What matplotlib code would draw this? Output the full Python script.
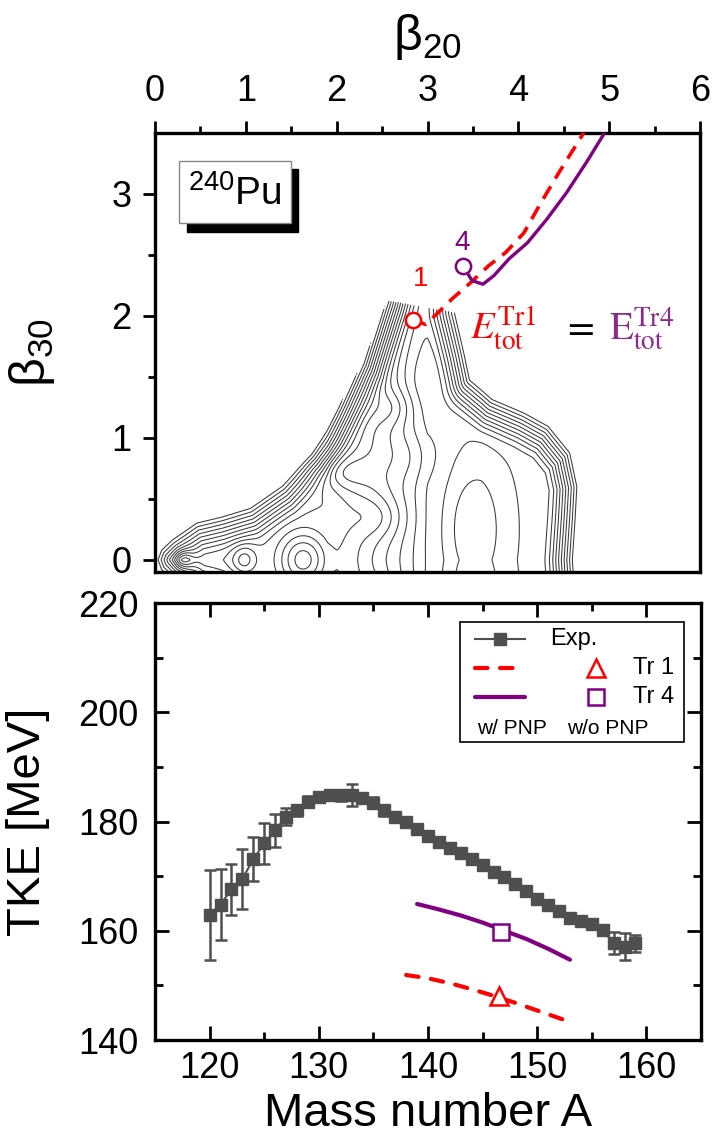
import numpy as np
import matplotlib.pyplot as plt
from matplotlib.path import Path
from matplotlib.patches import Rectangle
from matplotlib.lines import Line2D

plt.rcParams['font.family'] = ['Liberation Sans', 'DejaVu Sans']
plt.rcParams['mathtext.fontset'] = 'custom'
plt.rcParams['mathtext.rm'] = 'Liberation Sans'
plt.rcParams['mathtext.it'] = 'Liberation Sans:italic'

# ---------------- potential energy surface (beta20, beta30) ----------------
# outer rim of the computed region, upper half (mirrored for beta30 < 0)
rim_b20 = [0.00, 0.05, 0.18, 0.45, 0.73, 1.04, 1.39, 1.71, 2.02, 2.29, 2.55, 2.75,
           3.30, 3.31, 3.41, 3.47, 3.71, 4.06, 4.33, 4.57, 4.65, 4.63, 4.60]
rim_b30 = [0.00, 0.10, 0.19, 0.33, 0.38, 0.45, 0.63, 0.88, 1.26, 1.62, 2.12, 2.60,
           2.60, 2.03, 1.70, 1.48, 1.32, 1.21, 1.10, 0.88, 0.60, 0.33, 0.00]
# scission line cutting the fission channel
cut_b20 = [2.55, 3.31]
cut_b30 = [2.13, 2.03]

# energy drop along elongation beyond the second barrier [MeV]
trend_b20 = [0.0, 1.90, 2.00, 3.00, 3.30, 3.60, 4.70]
trend_E = [0.0, 0.0, -0.5, -7.0, -7.5, -7.8, -7.8]

# local pockets / bumps of the surface: centre, depth [MeV], widths
pock_b20 = [0.31, 0.98, 1.63, 2.05, 2.45, 2.80, 3.50, 2.90, 2.60]
pock_b30 = [0.00, 0.00, 0.00, 0.72, 0.35, 0.85, 0.25, 1.45, 1.25]
pock_dep = [-3.0, -2.5, -4.5, -2.2, 1.8, 0.8, -2.2, -1.0, 1.6]
pock_w20 = [0.10, 0.14, 0.26, 0.32, 0.30, 0.30, 0.33, 0.25, 0.25]
pock_w30 = [0.08, 0.13, 0.22, 0.15, 0.18, 0.20, 0.55, 0.35, 0.15]

wall_height = 10.0
wall_width = 0.30
levels = np.arange(-12, 14, 1.0)

# ---------------- fission trajectories ----------------
tr1_b20 = [2.835, 2.98, 3.12, 3.27, 3.47, 3.67, 3.86, 4.06, 4.25, 4.45, 4.61, 4.71, 4.75]
tr1_b30 = [1.97, 1.93, 2.03, 2.14, 2.27, 2.41, 2.52, 2.68, 2.93, 3.18, 3.37, 3.49, 3.56]
tr4_b20 = [3.39, 3.49, 3.61, 3.73, 3.90, 4.10, 4.31, 4.53, 4.75, 4.94, 4.98]
tr4_b30 = [2.41, 2.29, 2.26, 2.33, 2.47, 2.60, 2.79, 3.01, 3.26, 3.49, 3.56]

# ---------------- TKE ----------------
exp_A = np.arange(120, 160)
exp_tke = [162.9, 164.8, 167.6, 169.5, 173.1, 176.0, 178.4, 180.9, 182.1, 183.6,
           184.5, 184.8, 184.8, 184.9, 184.3, 183.4, 182.1, 180.9, 180.0, 178.7,
           177.4, 176.3, 175.1, 174.3, 173.2, 172.0, 170.7, 169.9, 168.5, 167.2,
           165.9, 164.8, 163.6, 162.3, 161.7, 161.2, 160.1, 157.7, 157.1, 157.7]
exp_err = [8.2, 6.5, 4.7, 5.5, 4.0, 3.7, 3.0, 1.5, 1.0, 1.0,
           0.8, 0.8, 1.0, 2.0, 1.0, 1.0, 1.0, 0.8, 0.8, 0.8,
           0.8, 0.6, 0.6, 0.6, 0.6, 0.6, 0.8, 0.6, 0.6, 0.6,
           0.6, 0.6, 0.6, 0.6, 0.6, 0.6, 0.8, 2.0, 2.5, 1.5]
tr4_A = [139, 141, 143, 145, 147, 149, 151, 153]
tr4_tke = [164.9, 163.9, 162.8, 161.5, 160.0, 158.5, 156.7, 154.7]
tr1_A = [138, 140, 142, 144, 146, 148, 150, 152.3]
tr1_tke = [151.9, 151.3, 150.4, 149.3, 148.1, 146.8, 145.4, 143.8]
nopnp_A = [146.5, 146.7]
nopnp_tke = [148.0, 159.8]

RED = '#ff0000'
PURPLE = '#800080'
GREY = '#4f4f4f'


def rim_distance(X, Y, px, py):
    d = np.full(X.shape, np.inf)
    for i in range(len(px) - 1):
        dx, dy = px[i + 1] - px[i], py[i + 1] - py[i]
        if dx == 0 and dy == 0:
            continue
        t = np.clip(((X - px[i]) * dx + (Y - py[i]) * dy) / (dx * dx + dy * dy), 0, 1)
        d = np.minimum(d, np.hypot(X - px[i] - t * dx, Y - py[i] - t * dy))
    inside = Path(np.column_stack([px, py])).contains_points(
        np.column_stack([X.ravel(), Y.ravel()])).reshape(X.shape)
    return np.where(inside, d, -d)


def surface():
    b20 = np.linspace(-0.05, 4.8, 800)
    b30 = np.linspace(-0.15, 2.4, 480)
    X, Y = np.meshgrid(b20, b30)
    px = np.array(rim_b20 + rim_b20[::-1][1:])
    py = np.array(rim_b30 + [-v for v in rim_b30[::-1]][1:])
    d = rim_distance(X, Y, px, py)
    w = 0.04
    E = wall_height / wall_width * w * np.logaddexp(0, (wall_width - d) / w)
    E += np.interp(X, trend_b20, trend_E)
    for x0, y0, dep, sx, sy in zip(pock_b20, pock_b30, pock_dep, pock_w20, pock_w30):
        E += dep * np.exp(-((X - x0) / sx) ** 2 - ((np.abs(Y) - y0) / sy) ** 2)
    cut = np.interp(X, cut_b20, cut_b30)
    E[(d < 0) | (Y > cut)] = np.nan
    return X, Y, E


fig = plt.figure(figsize=(7.13, 11.35), dpi=100)
ax1 = fig.add_axes([0.2174, 0.496, 0.7644, 0.3868])
ax2 = fig.add_axes([0.2174, 0.0837, 0.7658, 0.385])

# ---------------- upper panel ----------------
X, Y, E = surface()
ax1.contour(X, Y, E, levels=levels, colors='#3a3a3a', linewidths=0.75,
            linestyles='solid')
ax1.plot(tr1_b20, tr1_b30, color=RED, lw=2.6, ls=(0, (4, 2.5)), zorder=3)
ax1.plot(tr4_b20, tr4_b30, color=PURPLE, lw=2.4, zorder=3)
ax1.plot(tr1_b20[0], tr1_b30[0], 'o', ms=11, mfc='white', mec=RED, mew=1.8, zorder=4)
ax1.plot(tr4_b20[0], tr4_b30[0], 'o', ms=11, mfc='white', mec=PURPLE, mew=1.8, zorder=4)
ax1.text(2.92, 2.30, '1', color=RED, fontsize=20, ha='center', va='center')
ax1.text(3.38, 2.60, '4', color=PURPLE, fontsize=20, ha='center', va='center')
ax1.text(3.47, 1.90, r'$E_{\mathrm{tot}}^{\mathrm{Tr1}}$', color=RED, fontsize=28,
         math_fontfamily='stix', ha='left', va='center')
ax1.text(4.66, 1.90, r'$=$', color='black', fontsize=28, math_fontfamily='stix',
         ha='center', va='center')
ax1.text(5.0, 1.90, r'$\mathrm{E}_{\mathrm{tot}}^{\mathrm{Tr4}}$', color='#8c2a90',
         fontsize=28, math_fontfamily='stix', ha='left', va='center')

# nucleus label with drop shadow
ax1.add_patch(Rectangle((0.059, 0.774), 0.203, 0.144, transform=ax1.transAxes,
                        fc='black', ec='black', zorder=5))
ax1.add_patch(Rectangle((0.044, 0.795), 0.206, 0.141, transform=ax1.transAxes,
                        fc='white', ec='#888888', lw=1, zorder=6))
ax1.text(0.147, 0.862, r'$^{240}$Pu', transform=ax1.transAxes, fontsize=28,
         ha='center', va='center', zorder=7)

ax1.set_xlim(0, 6)
ax1.set_ylim(-0.1, 3.5)
ax1.xaxis.tick_top()
ax1.xaxis.set_label_position('top')
ax1.set_xticks(range(0, 7))
ax1.set_xticks(np.arange(0.5, 6, 1), minor=True)
ax1.set_yticks([0, 1, 2, 3])
ax1.set_yticks([0.5, 1.5, 2.5], minor=True)
ax1.tick_params(which='both', direction='out', width=2, labelsize=26, pad=8)
ax1.tick_params(which='major', length=9)
ax1.tick_params(which='minor', length=5)
ax1.set_xlabel('β$_{20}$', fontsize=36)
ax1.set_ylabel('β$_{30}$', fontsize=36)
ax1.xaxis.set_label_coords(0.5, 1.19)
ax1.yaxis.set_label_coords(-0.18, 0.5)
for s in ax1.spines.values():
    s.set_linewidth(2.4)

# ---------------- lower panel ----------------
ax2.errorbar(exp_A, exp_tke, yerr=exp_err, fmt='s-', color=GREY, ms=8, lw=1.5,
             elinewidth=1.8, capsize=4.5, capthick=1.8, zorder=3)
ax2.plot(tr4_A, tr4_tke, color=PURPLE, lw=3, solid_capstyle='round')
ax2.plot(tr1_A, tr1_tke, color=RED, lw=3, ls=(0, (3, 3)), dash_capstyle='round')
ax2.plot(nopnp_A[0], nopnp_tke[0], '^', ms=13, mfc='white', mec=RED, mew=1.8, zorder=4)
ax2.plot(nopnp_A[1], nopnp_tke[1], 's', ms=11, mfc='white', mec=PURPLE, mew=1.8, zorder=4)

# legend drawn by hand
tr = ax2.transAxes
ax2.add_patch(Rectangle((0.559, 0.683), 0.409, 0.274, transform=tr, fc='white',
                        ec='black', lw=1.2, zorder=5))
ax2.add_line(Line2D([0.586, 0.678], [0.918, 0.918], transform=tr, color=GREY, lw=1.5,
                    zorder=6))
ax2.add_line(Line2D([0.632], [0.918], transform=tr, color=GREY, marker='s', ms=8, zorder=6))
ax2.add_line(Line2D([0.586, 0.655], [0.851, 0.851], transform=tr, color=RED, lw=3,
                    ls=(0, (3, 3)), dash_capstyle='round', zorder=6))
ax2.add_line(Line2D([0.586, 0.678], [0.785, 0.785], transform=tr, color=PURPLE, lw=3,
                    solid_capstyle='round', zorder=6))
ax2.add_line(Line2D([0.808], [0.851], transform=tr, marker='^', ms=13, mfc='white',
                    mec=RED, mew=1.8, zorder=6))
ax2.add_line(Line2D([0.808], [0.785], transform=tr, marker='s', ms=11, mfc='white',
                    mec=PURPLE, mew=1.8, zorder=6))
ax2.text(0.723, 0.918, 'Exp.', transform=tr, fontsize=17, va='center', zorder=7)
ax2.text(0.875, 0.851, 'Tr 1', transform=tr, fontsize=17, va='center', zorder=7)
ax2.text(0.875, 0.785, 'Tr 4', transform=tr, fontsize=17, va='center', zorder=7)
ax2.text(0.654, 0.714, 'w/ PNP', transform=tr, fontsize=15, ha='center', va='center', zorder=7)
ax2.text(0.830, 0.714, 'w/o PNP', transform=tr, fontsize=15, ha='center', va='center', zorder=7)

ax2.set_xlim(115, 165)
ax2.set_ylim(140, 220)
ax2.set_xticks([120, 130, 140, 150, 160])
ax2.set_xticks([125, 135, 145, 155], minor=True)
ax2.set_yticks([140, 160, 180, 200, 220])
ax2.set_yticks([150, 170, 190, 210], minor=True)
ax2.tick_params(which='both', direction='in', top=True, right=True, width=2, labelsize=26)
ax2.tick_params(axis='x', pad=8)
ax2.tick_params(axis='y', pad=12)
ax2.tick_params(which='major', length=10)
ax2.tick_params(which='minor', length=6)
ax2.set_xlabel('Mass number A', fontsize=34)
ax2.set_ylabel('TKE [MeV]', fontsize=34)
ax2.yaxis.set_label_coords(-0.192, 0.5)
for s in ax2.spines.values():
    s.set_linewidth(2.4)

fig.savefig('out.png', dpi=100)
